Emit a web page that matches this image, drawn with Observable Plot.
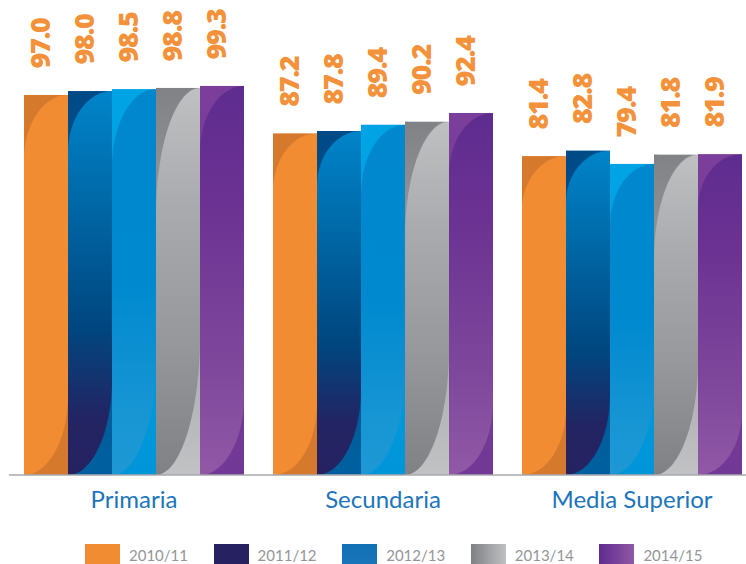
<!DOCTYPE html>
<html>
<head>
<meta charset="utf-8">
<script src="https://cdn.jsdelivr.net/npm/d3@7"></script>
<script src="https://cdn.jsdelivr.net/npm/@observablehq/plot@0.6"></script>
<style>
  html, body { margin: 0; padding: 0; background: #fff; overflow: hidden; }
  #chart { position: relative; width: 746px; height: 564px; overflow: hidden; }
  #legend { position: relative; width: 746px; height: 36px; }
  .item { position: absolute; top: 16px; display: flex; align-items: center; font-family: Lato, sans-serif; font-size: 15px; color: #939598; white-space: nowrap; }
  .sw { width: 35px; height: 22px; margin-right: 9px; }
  g[aria-label="text"] text { letter-spacing: -1.3px; }
</style>
</head>
<body>
<div id="chart"></div>
<script>
// ---- data ----
const groups = ["Primaria", "Secundaria", "Media Superior"];
const series = ["2010/11", "2011/12", "2012/13", "2013/14", "2014/15"];
const primaria = [97.0, 98.0, 98.5, 98.8, 99.3];
const secundaria = [87.2, 87.8, 89.4, 90.2, 92.4];
const mediaSuperior = [81.4, 82.8, 79.4, 81.8, 81.9];
const groupValues = [primaria, secundaria, mediaSuperior];

// ---- styles ----
const barStyles = [
  {bg: [[0, "#D57A2C"], [1, "#D57A2C"]], shape: [[0, "#F28C33"], [1, "#F28C33"]], h1: 0.17, h2: 0.79},
  {bg: [[0, "#004A86"], [1, "#00609F"]], shape: [[0, "#0084CA"], [0.28, "#0069A8"], [0.62, "#00467F"], [0.85, "#232463"], [1, "#262262"]], h1: 0.16, h2: 0.75},
  {bg: [[0, "#00A4E4"], [1, "#0095D9"]], shape: [[0, "#0087CD"], [0.5, "#0089CF"], [0.85, "#1896D4"], [1, "#1E98D5"]], h1: 0.2, h2: 0.7},
  {bg: [[0, "#808285"], [0.6, "#A6A8AB"], [1, "#C0C2C4"]], shape: [[0, "#BEC0C2"], [0.3, "#A9ABAE"], [0.65, "#96989B"], [1, "#7F8184"]], h1: 0.33, h2: 0.64},
  {bg: [[0, "#7B3F9B"], [1, "#723895"]], shape: [[0, "#5E2C8F"], [0.3, "#6C3293"], [0.66, "#7C449A"], [1, "#9058A5"]], h1: 0.17, h2: 0.8}
];
const legendFills = [
  "#F28C33",
  "#262262",
  "linear-gradient(#1270B5, #1A76BB)",
  "linear-gradient(to right, #7F8184, #BEC0C2)",
  "linear-gradient(to right, #5E2C8F, #9058A5)"
];

const data = groups.flatMap((g, gi) => series.map((s, si) => ({group: g, series: s, value: groupValues[gi][si]})));
const patternIds = series.map((s, i) => "barpat" + i);

const plot = Plot.plot({
  width: 746,
  height: 528,
  marginLeft: 22,
  marginRight: 4,
  marginTop: 83.2,
  marginBottom: 53,
  style: {fontFamily: "Lato, sans-serif", color: "#1C75BC", background: "#fff"},
  fx: {domain: groups, paddingInner: 0.114, paddingOuter: 0, label: null},
  x: {domain: series, padding: 0, axis: null},
  y: {domain: [0, 100], axis: null},
  color: {domain: series, range: patternIds.map(id => `url(#${id})`)},
  marks: [
    Plot.barY(data, {fx: "group", x: "series", y: "value", fill: "series"}),
    Plot.text(data, {
      fx: "group", x: "series", y: "value",
      text: d => d.value.toFixed(1),
      rotate: -90, textAnchor: "start", dx: -5.5, dy: -27,
      fill: "#F3923A", fontSize: 27, fontWeight: 800, fontFamily: "Open Sans"
    }),
    Plot.axisFx({anchor: "bottom", tickSize: 0, tickPadding: 15, fontSize: 24, label: null})
  ]
});

// pattern / gradient definitions for the bar fills
const svg = d3.select(plot);
const defs = svg.insert("defs", ":first-child");
barStyles.forEach((st, i) => {
  const bg = defs.append("linearGradient").attr("id", "bg" + i).attr("x1", 0).attr("y1", 0).attr("x2", 0).attr("y2", 1);
  st.bg.forEach(([o, c]) => bg.append("stop").attr("offset", o).attr("stop-color", c));
  const sh = defs.append("linearGradient").attr("id", "sh" + i).attr("x1", 0).attr("y1", 0).attr("x2", 0).attr("y2", 1);
  st.shape.forEach(([o, c]) => sh.append("stop").attr("offset", o).attr("stop-color", c));
  const k = 0.552;
  const h1 = st.h1, h2 = st.h2;
  const d = `M1,0 L1,${h2} C1,${h2 + k * (1 - h2)} ${k},1 0,1 L0,${h1} C0,${h1 - k * h1} ${1 - k},0 1,0 Z`;
  const p = defs.append("pattern").attr("id", patternIds[i])
    .attr("patternUnits", "objectBoundingBox").attr("patternContentUnits", "objectBoundingBox")
    .attr("width", 1).attr("height", 1);
  p.append("rect").attr("width", 1).attr("height", 1).attr("fill", `url(#bg${i})`);
  p.append("path").attr("d", d).attr("fill", `url(#sh${i})`);
});

// baseline
const y0 = plot.scale("y").apply(0);
svg.append("line").attr("x1", 9).attr("x2", 746).attr("y1", y0).attr("y2", y0)
  .attr("stroke", "#A7A9AC").attr("stroke-width", 1.5);

const chart = document.getElementById("chart");
chart.appendChild(plot);

// legend
const legend = d3.select(chart).append("div").attr("id", "legend");
series.forEach((s, i) => {
  const it = legend.append("div").attr("class", "item").style("left", (85 + i * 128.6) + "px");
  it.append("div").attr("class", "sw").style("background", legendFills[i]);
  it.append("span").text(s);
});
</script>
</body>
</html>
